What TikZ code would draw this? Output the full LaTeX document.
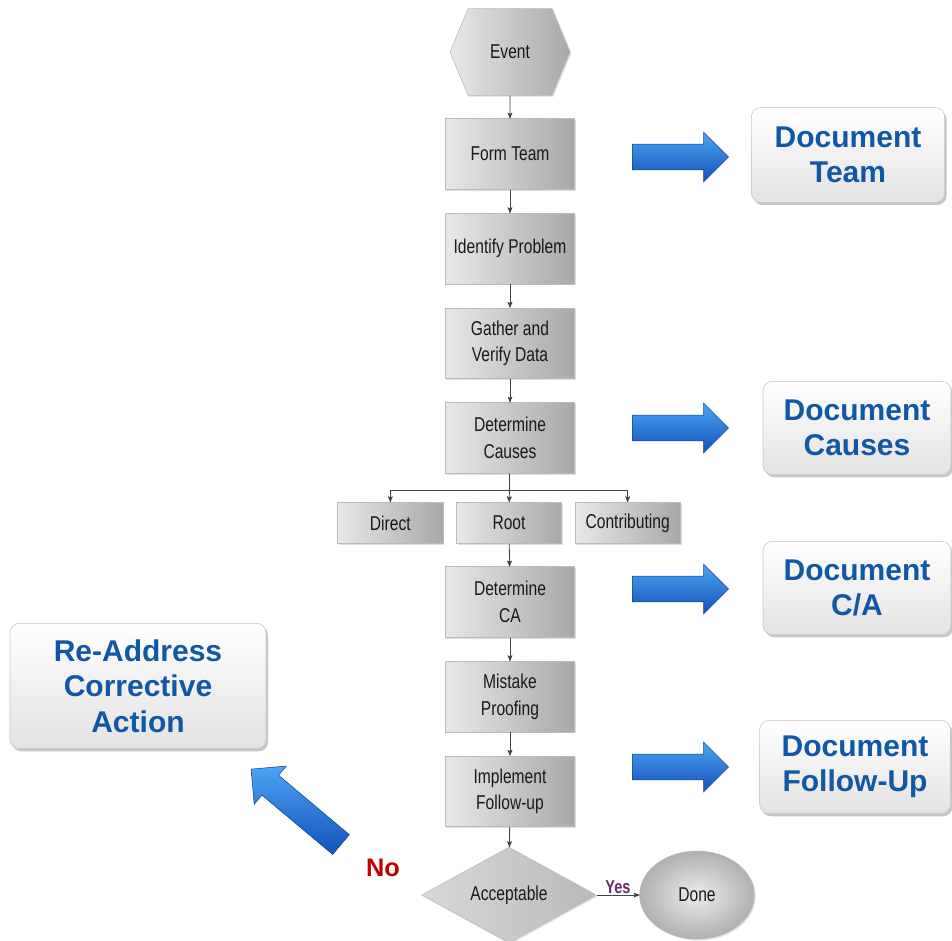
\documentclass[tikz,border=0pt]{standalone}
\usepackage{fontspec}
\setmainfont{Liberation Sans}
\newfontfamily\narrowfont[FakeStretch=0.78]{Liberation Sans}
\usepackage[usenames, svgnames, dvipsnames]{xcolor}
\usetikzlibrary{arrows,positioning,shapes.geometric,shapes.symbols,shapes.arrows,shadows}

\definecolor{docblue}{RGB}{16,88,166}
\definecolor{yespurple}{RGB}{104,44,104}
\definecolor{nored}{RGB}{192,0,0}
\definecolor{arrlight}{RGB}{75,165,245}
\definecolor{arrdark}{RGB}{20,80,185}

\begin{document}
\begin{tikzpicture}[x=0.75pt,y=-0.75pt,->,>=stealth',auto,node distance=71pt,
                    every edge/.append style={black!75,line width=0.6pt},
    proc/.style={rectangle,draw=gray!55,left color=gray!18,right color=gray!68,
                 minimum width=97pt,minimum height=53pt,inner sep=2pt,align=center,
                 font=\narrowfont\fontsize{15}{20}\selectfont,text=black!90,
                 drop shadow={opacity=.25,shadow xshift=1pt,shadow yshift=-1pt}},
    branch/.style={proc,minimum width=79pt,minimum height=31pt},
    docbox/.style={rectangle,rounded corners=7pt,draw=gray!45,top color=white,
                   bottom color=gray!22,minimum width=141pt,minimum height=70pt,
                   align=center,font=\bfseries\fontsize{22.5}{26.5}\selectfont,
                   text=docblue,drop shadow={opacity=.45,shadow xshift=1.5pt,shadow yshift=-2pt}},
    barrow/.style={single arrow,draw=arrdark!80!black,top color=arrlight,bottom color=arrdark,
                   minimum height=72pt,minimum width=37pt,single arrow head extend=9pt,
                   inner xsep=0pt,inner ysep=9.5pt}]
  \useasboundingbox (0,0) rectangle (952,941);

  % main column
  \node[proc,shape=signal,signal to=east and west,signal pointer angle=135,
        minimum width=90pt,minimum height=65pt] (Ev) at (510,52) {Event};
  \node[proc] (FT) at (510,154)  {Form Team};
  \node[proc] (IP) [below of=FT] {Identify Problem};
  \node[proc] (GV) [below of=IP] {Gather and\\Verify Data};
  \node[proc] (DC) [below of=GV] {Determine\\Causes};
  \coordinate (split) at (510,490);
  \node[branch] (Root) at (509,523) {Root};
  \node[branch] (Dir) [left of=Root,node distance=89pt]  {Direct};
  \node[branch] (Con) [right of=Root,node distance=89pt] {Contributing};
  \node[proc] (CA) at (510,602)  {Determine\\CA};
  \node[proc] (MP) [below of=CA] {Mistake\\Proofing};
  \node[proc] (IF) [below of=MP] {Implement\\Follow-up};
  \node[proc,shape=diamond,left color=gray!30,right color=gray!55,inner sep=0pt,
        minimum width=131pt,minimum height=68pt] (Acc) at (509,895) {Acceptable};
  \node[proc,shape=ellipse,inner color=gray!15,outer color=gray!62,
        minimum width=86pt,minimum height=66pt] (Done) [right of=Acc,node distance=141pt] {Done};

  \path (Ev) edge (FT)
        (FT) edge (IP)
        (IP) edge (GV)
        (GV) edge (DC)
        (DC) edge (Root)
        (Root) edge (CA)
        (CA) edge (MP)
        (MP) edge (IF)
        (IF) edge (Acc)
        (Acc) edge node[font=\narrowfont\bfseries\fontsize{14}{16}\selectfont,
                        text=yespurple,inner sep=1pt] {Yes} (Done);
  \draw[black!75,line width=0.6pt] (split) -| (Dir);
  \draw[black!75,line width=0.6pt] (split) -| (Con);

  % documentation
  \node[barrow] (a1) at (674,157) {};
  \node[barrow] (a2) at (674,428) {};
  \node[barrow] (a3) at (674,589) {};
  \node[barrow] (a4) at (674,767) {};
  \node[docbox,minimum width=145pt,minimum height=71pt] (DT) at (848,155) {Document\\Team};
  \node[docbox] (DCs) at (857,428) {Document\\Causes};
  \node[docbox] (DCA) at (857,588) {Document\\C/A};
  \node[docbox,minimum width=143pt] (DF) at (855,767) {Document\\Follow-Up};

  % rejected
  \node[barrow,rotate=140,minimum height=88pt] (a5) at (301,811) {};
  \node[font=\bfseries\fontsize{19}{22}\selectfont,text=nored] (No) at (383,868) {No};
  \node[docbox,minimum width=192pt,minimum height=94pt] (RA) at (138,686)
       {Re-Address\\Corrective\\Action};
\end{tikzpicture}
\end{document}
